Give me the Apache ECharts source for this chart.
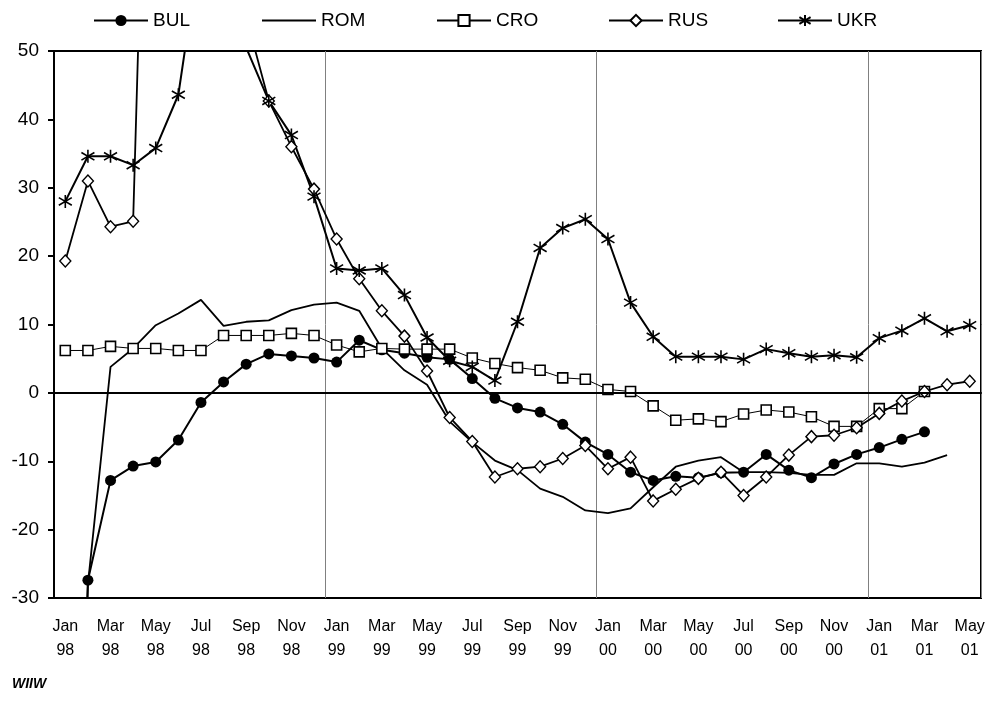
<!DOCTYPE html>
<html>
<head>
<meta charset="utf-8">
<script src="https://cdn.jsdelivr.net/npm/echarts@6/dist/echarts.min.js"></script>
<style>
html,body{margin:0;padding:0;background:#fff;}
#chart{width:990px;height:702px;}
</style>
</head>
<body>
<div id="chart"></div>
<script>
const months = ['Jan 98','Feb 98','Mar 98','Apr 98','May 98','Jun 98','Jul 98','Aug 98','Sep 98','Oct 98','Nov 98','Dec 98',
  'Jan 99','Feb 99','Mar 99','Apr 99','May 99','Jun 99','Jul 99','Aug 99','Sep 99','Oct 99','Nov 99','Dec 99',
  'Jan 00','Feb 00','Mar 00','Apr 00','May 00','Jun 00','Jul 00','Aug 00','Sep 00','Oct 00','Nov 00','Dec 00',
  'Jan 01','Feb 01','Mar 01','Apr 01','May 01'];

const BUL = [-150, -27.4, -12.8, -10.7, -10.1, -6.9, -1.4, 1.6, 4.2, 5.7, 5.4, 5.1,
  4.5, 7.7, 6.3, 5.8, 5.2, 4.9, 2.1, -0.8, -2.2, -2.8, -4.6, -7.2,
  -9.0, -11.6, -12.8, -12.2, -12.4, -11.7, -11.6, -9.0, -11.3, -12.4, -10.4, -9.0,
  -8.0, -6.8, -5.7, null, null];

const ROM = [-120, -28, 3.8, 6.5, 9.9, 11.6, 13.6, 9.8, 10.4, 10.6, 12.1, 12.9,
  13.2, 12.0, 6.5, 3.3, 1.2, -4.2, -7.2, -9.9, -11.3, -14.0, -15.2, -17.2,
  -17.6, -16.9, -13.8, -10.8, -9.9, -9.4, -11.6, -11.6, -11.7, -12.0, -12.0, -10.3,
  -10.3, -10.8, -10.2, -9.1, null];

const CRO = [6.2, 6.2, 6.8, 6.5, 6.5, 6.2, 6.2, 8.4, 8.4, 8.4, 8.7, 8.4,
  7.0, 6.0, 6.5, 6.4, 6.4, 6.4, 5.1, 4.3, 3.7, 3.3, 2.2, 2.0,
  0.5, 0.2, -1.9, -4.0, -3.8, -4.2, -3.1, -2.5, -2.8, -3.5, -4.9, -4.9,
  -2.3, -2.3, 0.2, null, null];

const RUS = [19.3, 31.0, 24.3, 25.1, 140, 120, 100, 80, 55, 42.7, 36.0, 29.8,
  22.5, 16.7, 12.0, 8.3, 3.2, -3.6, -7.1, -12.3, -11.1, -10.8, -9.6, -7.7,
  -11.1, -9.4, -15.8, -14.1, -12.5, -11.6, -15.0, -12.3, -9.1, -6.4, -6.2, -5.1,
  -3.0, -1.2, 0.2, 1.2, 1.7];

const UKR = [28.0, 34.6, 34.6, 33.3, 35.8, 43.6, 66, 70, 50.5, 42.7, 37.7, 28.7,
  18.2, 17.9, 18.2, 14.3, 8.1, 4.7, 3.8, 1.8, 10.4, 21.2, 24.1, 25.4,
  22.5, 13.2, 8.2, 5.3, 5.3, 5.3, 4.9, 6.4, 5.8, 5.3, 5.5, 5.2,
  8.0, 9.1, 10.9, 9.0, 9.9];

const yTicks = [-30, -20, -10, 0, 10, 20, 30, 40, 50];

const FONT = 'Liberation Sans, Arial, sans-serif';
const ASTERISK = 'path://M6,0L6,12M1,2.5L11,9.5M1,9.5L11,2.5';

const chart = echarts.init(document.getElementById('chart'), null, {renderer: 'canvas'});

function legendAt(name, left) {
  return {
    data: [name], left: left, top: 6, itemWidth: 54, itemHeight: 14, itemGap: 8,
    textStyle: {fontFamily: FONT, fontSize: 19, color: '#000'},
    selectedMode: false
  };
}

const option = {
  animation: false,
  backgroundColor: '#fff',
  legend: [
    legendAt('BUL', 88),
    {
      data: [{name: 'ROM', icon: 'rect', itemStyle: {color: '#000', borderWidth: 0}}],
      left: 257, top: 6, itemWidth: 54, itemHeight: 2,
      textStyle: {fontFamily: FONT, fontSize: 19, color: '#000'}, selectedMode: false
    },
    legendAt('CRO', 431),
    legendAt('RUS', 603),
    legendAt('UKR', 772)
  ],
  grid: {left: 54, right: 9, top: 51, bottom: 104, show: true, borderColor: '#000', borderWidth: 2, backgroundColor: 'transparent'},
  xAxis: {
    type: 'category', data: months, boundaryGap: true,
    axisLine: {lineStyle: {color: '#000', width: 2}},
    axisTick: {show: false},
    axisLabel: {
      interval: 1, margin: 17, color: '#000', fontFamily: FONT, fontSize: 16, lineHeight: 24,
      formatter: v => v.replace(' ', '\n')
    },
    splitLine: {show: true, interval: (i) => i > 0 && i % 12 === 0, lineStyle: {color: '#808080', width: 1}}
  },
  yAxis: {
    type: 'value', min: yTicks[0], max: yTicks[yTicks.length - 1], interval: 10,
    axisLine: {show: true, lineStyle: {color: '#000', width: 2}},
    axisTick: {show: true, inside: false, length: 6, lineStyle: {color: '#000', width: 2}},
    axisLabel: {color: '#000', fontFamily: FONT, fontSize: 19, margin: 15},
    splitLine: {show: false}
  },
  series: [
    {
      name: 'BUL', type: 'line', data: BUL, symbol: 'circle', symbolSize: 11,
      lineStyle: {color: '#000', width: 2}, itemStyle: {color: '#000', borderColor: '#000', borderWidth: 0},
      emphasis: {disabled: true},
      markLine: {silent: true, symbol: ['none', 'none'], label: {show: false},
        lineStyle: {color: '#000', width: 2, type: 'solid'}, data: [{yAxis: 0}]}
    },
    {
      name: 'ROM', type: 'line', data: ROM, symbol: 'none', showSymbol: false,
      lineStyle: {color: '#000', width: 1.8}, itemStyle: {color: '#000'},
      emphasis: {disabled: true}
    },
    {
      name: 'CRO', type: 'line', data: CRO, symbol: 'rect', symbolSize: 10,
      lineStyle: {color: '#000', width: 1}, itemStyle: {color: '#fff', borderColor: '#000', borderWidth: 1.6},
      emphasis: {disabled: true}
    },
    {
      name: 'RUS', type: 'line', data: RUS, symbol: 'diamond', symbolSize: [11, 12],
      lineStyle: {color: '#000', width: 1.8}, itemStyle: {color: '#fff', borderColor: '#000', borderWidth: 1.4},
      emphasis: {disabled: true}
    },
    {
      name: 'UKR', type: 'line', data: UKR, symbol: ASTERISK, symbolSize: 13,
      lineStyle: {color: '#000', width: 2}, itemStyle: {color: 'rgba(0,0,0,0)', borderColor: '#000', borderWidth: 1.6},
      emphasis: {disabled: true}
    }
  ],
  graphic: [
    {type: 'text', left: 12, top: 677, style: {text: 'WIIW', font: 'italic bold 14px ' + FONT, fill: '#000'}}
  ]
};
chart.setOption(option);
</script>
</body>
</html>
